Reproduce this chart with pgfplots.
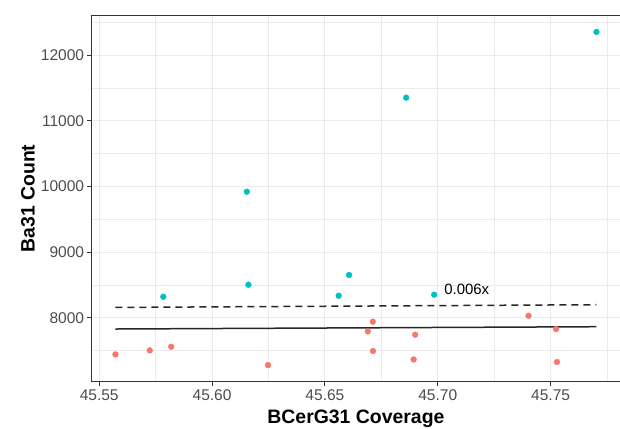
\documentclass[border=0pt]{standalone}
\usepackage{pgfplots}
\pgfplotsset{compat=1.18}
\usepackage{fontspec}
\setmainfont{Liberation Sans}
\definecolor{gred}{HTML}{F8766D}
\definecolor{gcyan}{HTML}{00BFC4}
\definecolor{gridc}{HTML}{EBEBEB}
\definecolor{tickc}{HTML}{4D4D4D}
\definecolor{borderc}{HTML}{333333}
\begin{document}
\begin{tikzpicture}
\path[use as bounding box] (-91.3bp,-47.3bp) rectangle (528.7bp,381.7bp);
\begin{axis}[
  at={(0,0)}, anchor=south west,
  scale only axis, width=529.3bp, height=366.4bp,
  xmin=45.5465, xmax=45.7810, ymin=7025, ymax=12609,
  xtick={45.55,45.60,45.65,45.70,45.75},
  minor xtick={45.575,45.625,45.675,45.725,45.775},
  ytick={8000,9000,10000,11000,12000},
  minor ytick={7500,8500,9500,10500,11500,12500},
  scaled y ticks=false, scaled x ticks=false,
  x tick label style={/pgf/number format/fixed, /pgf/number format/fixed zerofill, /pgf/number format/precision=2},
  y tick label style={/pgf/number format/fixed, /pgf/number format/1000 sep={}},
  /pgf/number format/assume math mode=true,
  grid=both,
  major grid style={gridc, line width=1.1bp},
  minor grid style={gridc, line width=0.6bp},
  axis line style={draw=none},
  tick align=outside, tickpos=left,
  major tick length=4bp, minor tick length=0pt,
  tick style={borderc, line width=0.9bp},
  ticklabel style={font=\fontsize{15.6}{18}\selectfont, text=tickc, inner sep=0pt},
  yticklabel style={anchor=east, xshift=-3bp},
  xticklabel style={anchor=north, yshift=-4bp},
  xlabel={BCerG31 Coverage}, ylabel={Ba31 Count},
  every axis x label/.style={at={(axis description cs:0.5,0)}, anchor=center, yshift=-37.5bp, font=\fontsize{19.5}{23}\selectfont\bfseries},
  every axis y label/.style={at={(axis description cs:0,0.5)}, anchor=center, rotate=90, yshift=63.3bp, font=\fontsize{19.5}{23}\selectfont\bfseries},
  clip=false,
]
\draw[borderc, line width=0.9bp] (rel axis cs:1,1) -- (rel axis cs:0,1) -- (rel axis cs:0,0) -- (rel axis cs:1,0);
\addplot[black!85, line width=1.5bp, dash pattern=on 7bp off 5bp] coordinates {(45.5572,8157) (45.7703,8198)};
\addplot[black!85, line width=1.5bp] coordinates {(45.5572,7828) (45.7703,7863)};
\addplot[only marks, mark=*, mark size=2.9bp, gcyan, mark options={draw=gcyan, fill=gcyan}] coordinates {
(45.5784,8320) (45.6154,9921) (45.6161,8503) (45.6561,8335) (45.6607,8651)
(45.6860,11354) (45.6984,8351) (45.7703,12355)};
\addplot[only marks, mark=*, mark size=2.9bp, gred, mark options={draw=gred, fill=gred}] coordinates {
(45.5572,7441) (45.5724,7502) (45.5819,7558) (45.6248,7279) (45.6690,7791)
(45.6712,7939) (45.6713,7492) (45.6893,7364) (45.6900,7741) (45.7402,8030)
(45.7524,7828) (45.7528,7325)};
\node[anchor=west, inner sep=0pt, font=\fontsize{15}{18}\selectfont] at (axis cs:45.7028,8437) {0.006x};
\end{axis}
\end{tikzpicture}
\end{document}
